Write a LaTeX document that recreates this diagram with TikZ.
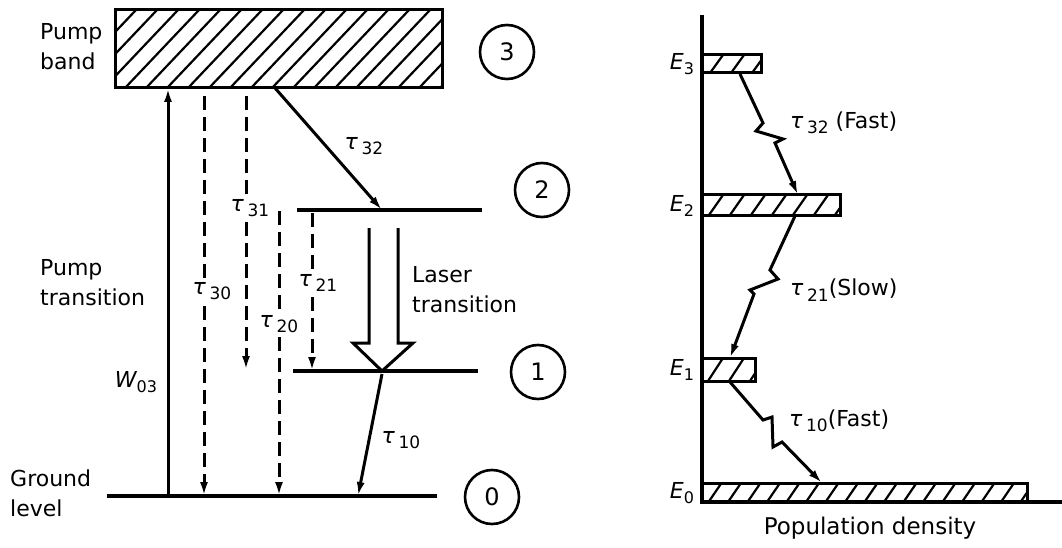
\documentclass[tikz,border=0pt]{standalone}
\usepackage{fontspec}
\setmainfont{DejaVu Sans}
\usetikzlibrary{arrows.meta}
\newcommand\hatchrect[6]{%
  \begin{scope}
    \clip (#1,#2) rectangle (#3,#4);
    \foreach \i in {0,...,40}{\draw[hatch] ({#1+\i*#5-#6},#4) -- ({#1+\i*#5},#2);}
  \end{scope}
  \draw[box] (#1,#2) rectangle (#3,#4);}
\newcommand\taul[1]{{\itshape τ}\,\raisebox{-0.45ex}{\fontsize{17}{17}\selectfont #1}}
\newcommand\symsub[2]{{\itshape #1}\raisebox{-0.45ex}{\fontsize{16}{16}\selectfont #2}}
\begin{document}
\begin{tikzpicture}[x=1pt,y=-1pt,
  font=\fontsize{22}{30}\selectfont,
  level/.style={line width=3.4pt},
  box/.style={line width=3pt},
  hatch/.style={line width=2.2pt},
  tip/.style={-{Latex[length=14pt,width=8pt]}},
  dline/.style={line width=3pt, dash pattern=on 14pt off 7pt, tip},
  arr/.style={line width=3pt, tip},
  lbl/.style={fill=white, inner sep=1pt},
  txt/.style={anchor=west, align=left, inner sep=0pt},
  num/.style={circle, draw, line width=2.6pt, minimum size=54pt, inner sep=0pt, font=\fontsize{24}{28}\selectfont}]
\useasboundingbox (0,0) rectangle (1062,548);

% ---------- left panel ----------
\hatchrect{115}{10}{442}{88}{21}{74}
\coordinate (L2a) at (297,210); \coordinate (L2b) at (482,210);
\coordinate (L1a) at (293,371); \coordinate (L1b) at (478,371);
\coordinate (L0a) at (107,496); \coordinate (L0b) at (437,496);
\draw[level] (L2a) -- (L2b);
\draw[level] (L1a) -- (L1b);
\draw[level] (L0a) -- (L0b);

% pump transition
\coordinate (p0) at (168,496); \coordinate (p3) at (168,88);
\draw[arr] (p0) -- (p3);

% dashed decays
\coordinate (d30a) at (204,96);  \coordinate (d30b) at (204,496);
\coordinate (d31a) at (246,96);  \coordinate (d31b) at (246,370);
\coordinate (d20a) at (279,211); \coordinate (d20b) at (279,496);
\coordinate (d21a) at (312,213); \coordinate (d21b) at (312,371);
\draw[dline] (d30a) -- (d30b);
\draw[dline] (d31a) -- (d31b);
\draw[dline] (d20a) -- (d20b);
\draw[dline] (d21a) -- (d21b);
\node[lbl] (t30) at (212,291) {\taul{30}};
\node[lbl] (t31) at (250,208) {\taul{31}};
\node[lbl] (t20) at (279,324) {\taul{20}};
\node[lbl] (t21) at (318,283) {\taul{21}};

% tau32 and tau10
\coordinate (s32a) at (275,88); \coordinate (s32b) at (382,210);
\draw[arr] (s32a) -- (s32b);
\node (t32) at (364,146) {\taul{32}};
\coordinate (s10a) at (382,374); \coordinate (s10b) at (358,496);
\draw[arr] (s10a) -- (s10b);
\node (t10) at (401,440) {\taul{10}};

% laser transition hollow arrow
\draw[line width=3pt, line join=miter] (369,228) -- (369,343) -- (353,343) -- (382,371) -- (413,343) -- (398,343) -- (398,228);

% labels
\node[txt] (pb) at (40,47) {Pump\\band};
\node[txt] (pt) at (40,283) {Pump\\transition};
\node[txt] (gl) at (10,493) {Ground\\level};
\node[txt] (lt) at (412,290) {Laser\\transition};
\node (w03) at (136,382) {\symsub{W}{03}};

\node[num] (n3) at (507,52) {3};
\node[num] (n2) at (542,190) {2};
\node[num] (n1) at (538,372) {1};
\node[num] (n0) at (492,497) {0};

% ---------- right panel ----------
\coordinate (ax0) at (702,15); \coordinate (ax1) at (702,502); \coordinate (ax2) at (1062,502);
\draw[level] (ax0) -- (ax1) -- (ax2);
\hatchrect{702}{55}{761}{73}{21}{13}
\hatchrect{702}{195}{840}{215}{21}{14}
\hatchrect{702}{358}{755}{381}{21}{15}
\hatchrect{702}{483}{1027}{502}{19.5}{13}

\node (e3) at (682,64) {\symsub{E}{3}};
\node (e2) at (682,206) {\symsub{E}{2}};
\node (e1) at (682,370) {\symsub{E}{1}};
\node (e0) at (682,493) {\symsub{E}{0}};

\coordinate (z32a) at (740,74); \coordinate (z32b) at (798,195);
\draw[arr, line join=miter] (z32a) -- (763,123) -- (756,131) -- (783,139) -- (775,143) -- (z32b);
\coordinate (z21a) at (795,216); \coordinate (z21b) at (730,358);
\draw[arr, line join=miter] (z21a) -- (770,270) -- (778,279) -- (750,290) -- (754,294) -- (z21b);
\coordinate (z10a) at (730,382); \coordinate (z10b) at (822,483);
\draw[arr, line join=miter] (z10a) -- (763,420) -- (772,417) -- (773,447) -- (782,442) -- (z10b);

\node[txt] (f32) at (790,123) {\taul{32} (Fast)};
\node[txt] (f21) at (790,290) {\taul{21}(Slow)};
\node[txt] (f10) at (789,421) {\taul{10}(Fast)};
\node[font=\fontsize{23}{28}\selectfont] (pd) at (870,528) {Population density};
\end{tikzpicture}
\end{document}
